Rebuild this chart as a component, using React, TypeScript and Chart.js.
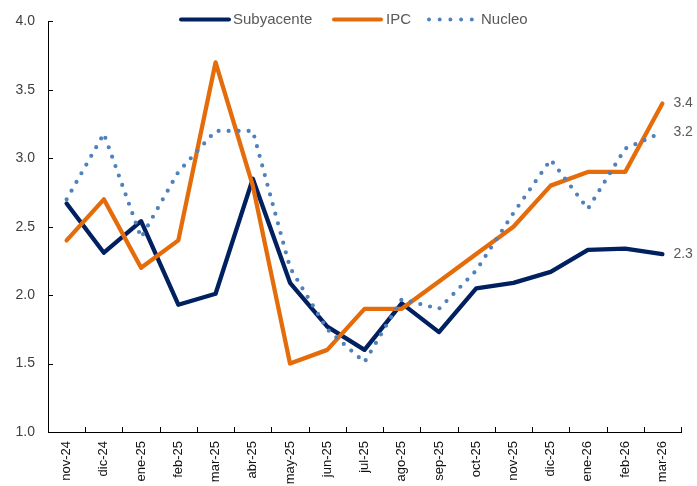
import React, { useEffect, useRef } from 'react';
import { Chart, registerables } from 'chart.js';
Chart.register(...registerables);

const categories = ['nov-24','dic-24','ene-25','feb-25','mar-25','abr-25','may-25','jun-25','jul-25','ago-25','sep-25','oct-25','nov-25','dic-25','ene-26','feb-26','mar-26'];
const subyacente = [2.67, 2.31, 2.54, 1.93, 2.01, 2.85, 2.09, 1.77, 1.60, 1.94, 1.73, 2.05, 2.09, 2.17, 2.33, 2.34, 2.30];
const ipc = [2.4, 2.7, 2.2, 2.4, 3.7, 2.8, 1.5, 1.6, 1.9, 1.9, 2.1, 2.3, 2.5, 2.8, 2.9, 2.9, 3.4];
const nucleo = [2.7, 3.18, 2.42, 2.9, 3.2, 3.2, 2.2, 1.75, 1.51, 1.97, 1.9, 2.18, 2.6, 2.99, 2.63, 3.07, 3.19];
const seriesNames = ['Subyacente', 'IPC', 'Nucleo'];
const yMin = 1.0;
const yMax = 4.0;
const yStep = 0.5;

const NAVY = '#002060';
const ORANGE = '#E46C0A';
const BLUE = '#4F81BD';
const FONT = "'Liberation Sans', Arial, sans-serif";

const overlay = {
  id: 'overlay',
  afterDraw(chart: any) {
    const ctx = chart.ctx;
    const x = chart.scales.x;
    const y = chart.scales.y;
    const area = chart.chartArea;
    ctx.save();
    // inward tick marks
    ctx.strokeStyle = '#000';
    ctx.lineWidth = 1;
    y.ticks.forEach((t: any) => {
      const py = Math.round(y.getPixelForValue(t.value)) + 0.5;
      ctx.beginPath();
      ctx.moveTo(area.left, py);
      ctx.lineTo(area.left + 5, py);
      ctx.stroke();
    });
    for (let i = 0; i <= categories.length; i++) {
      let px;
      if (i === 0) px = area.left;
      else if (i === categories.length) px = area.right;
      else px = (x.getPixelForValue(i - 1) + x.getPixelForValue(i)) / 2;
      px = Math.round(px) + 0.5;
      ctx.beginPath();
      ctx.moveTo(px, area.bottom);
      ctx.lineTo(px, area.bottom - 5);
      ctx.stroke();
    }
    // end labels
    ctx.font = `14px ${FONT}`;
    ctx.fillStyle = '#595959';
    ctx.textAlign = 'left';
    ctx.textBaseline = 'middle';
    chart.data.datasets.forEach((ds: any) => {
      const n = ds.data.length - 1;
      const v = ds.data[n];
      ctx.fillText(v.toFixed(1), x.getPixelForValue(n) + 11, y.getPixelForValue(v));
    });
    // legend
    const ly = 19.5;
    ctx.lineCap = 'round';
    ctx.lineWidth = 4;
    ctx.strokeStyle = NAVY;
    ctx.beginPath(); ctx.moveTo(181, ly); ctx.lineTo(229, ly); ctx.stroke();
    ctx.strokeStyle = ORANGE;
    ctx.beginPath(); ctx.moveTo(334, ly); ctx.lineTo(381, ly); ctx.stroke();
    ctx.strokeStyle = BLUE;
    ctx.lineWidth = 4;
    ctx.setLineDash([0, 10.7]);
    ctx.beginPath(); ctx.moveTo(429, ly); ctx.lineTo(472, ly); ctx.stroke();
    ctx.setLineDash([]);
    ctx.font = `15px ${FONT}`;
    ctx.fillStyle = '#595959';
    ctx.fillText(seriesNames[0], 233, ly);
    ctx.fillText(seriesNames[1], 386, ly);
    ctx.fillText(seriesNames[2], 481, ly);
    ctx.restore();
  },
};

export default function App() {
  const ref = useRef<HTMLCanvasElement>(null);
  useEffect(() => {
    if (!ref.current) return;
    const chart = new Chart(ref.current, {
      type: 'line',
      data: {
        labels: categories,
        datasets: [
          { label: seriesNames[0], data: subyacente, borderColor: NAVY, borderWidth: 4.3, pointRadius: 0, borderJoinStyle: 'round', borderCapStyle: 'round', order: 2, tension: 0 },
          { label: seriesNames[1], data: ipc, borderColor: ORANGE, borderWidth: 4.3, pointRadius: 0, borderJoinStyle: 'round', borderCapStyle: 'round', order: 1, tension: 0 },
          { label: seriesNames[2], data: nucleo, borderColor: BLUE, borderWidth: 4.2, borderDash: [0, 10], borderCapStyle: 'round', borderJoinStyle: 'round', pointRadius: 0, order: 0, tension: 0 },
        ],
      },
      options: {
        responsive: false,
        animation: false,
        layout: { padding: { top: 17, right: 16, left: 0, bottom: 0 } },
        plugins: { legend: { display: false }, tooltip: { enabled: false } },
        scales: {
          x: {
            offset: true,
            grid: { display: false, offset: true, drawTicks: false },
            border: { display: true, color: '#000', width: 1 },
            ticks: { autoSkip: false, minRotation: 90, maxRotation: 90, padding: 9, color: '#111', font: { family: FONT, size: 13 } },
            afterFit: (s: any) => { s.height = 54; },
          },
          y: {
            min: yMin,
            max: yMax,
            grid: { display: false, drawTicks: false },
            border: { display: true, color: '#000', width: 1 },
            ticks: { stepSize: yStep, padding: 13, color: '#404040', font: { family: FONT, size: 14 }, callback: (v: any) => Number(v).toFixed(1) },
            afterFit: (s: any) => { s.width = 48; },
          },
        },
      },
      plugins: [overlay],
    });
    return () => chart.destroy();
  }, []);
  return (
    <div style={{ position: 'absolute', left: 0, top: 0, width: 697, height: 486 }}>
      <canvas ref={ref} width={697} height={486} />
    </div>
  );
}
